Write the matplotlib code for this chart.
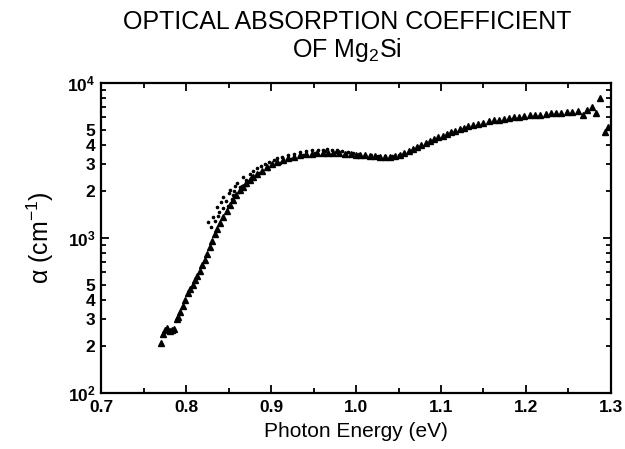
import matplotlib
matplotlib.use("Agg")
import matplotlib.pyplot as plt
from matplotlib.ticker import LogLocator, FixedLocator, FuncFormatter, MultipleLocator

plt.rcParams['font.family'] = ['Liberation Sans', 'DejaVu Sans']
plt.rcParams['mathtext.default'] = 'regular'

# triangle series: photon energy (eV) and absorption coefficient (cm^-1)
tri_energy = [0.771, 0.773, 0.775, 0.778, 0.781, 0.784, 0.786, 0.789, 0.791, 0.793,
              0.796, 0.799, 0.802, 0.805, 0.808, 0.811, 0.813, 0.816, 0.819, 0.822,
              0.825, 0.828, 0.831, 0.834, 0.837, 0.840, 0.844, 0.848, 0.852, 0.855,
              0.859, 0.863, 0.867, 0.871, 0.875, 0.879, 0.884, 0.889, 0.895, 0.901,
              0.907, 0.914, 0.920, 0.927, 0.934, 0.941, 0.948, 0.954, 0.961, 0.967,
              0.973, 0.980, 0.987, 0.994, 1.000, 1.005, 1.011, 1.016, 1.022, 1.028,
              1.034, 1.040, 1.046, 1.052, 1.057, 1.062, 1.067, 1.072, 1.077, 1.082,
              1.087, 1.092, 1.097, 1.102, 1.107, 1.112, 1.117, 1.122, 1.127, 1.132,
              1.138, 1.144, 1.150, 1.156, 1.162, 1.168, 1.174, 1.180, 1.186, 1.192,
              1.198, 1.205, 1.211, 1.217, 1.223, 1.229, 1.235, 1.241, 1.248, 1.254,
              1.261, 1.267, 1.272, 1.278, 1.282, 1.287, 1.293, 1.297]
tri_alpha = [210, 240, 255, 262, 250, 255, 258, 300, 310, 335,
             365, 400, 440, 470, 500, 535, 565, 610, 665, 720,
             790, 870, 960, 1060, 1150, 1250, 1360, 1500, 1640, 1760,
             1900, 2030, 2140, 2270, 2370, 2460, 2590, 2720, 2870, 2990,
             3100, 3180, 3260, 3330, 3410, 3460, 3500, 3530, 3540, 3550,
             3540, 3520, 3500, 3480, 3450, 3430, 3410, 3390, 3370, 3350,
             3340, 3330, 3380, 3440, 3540, 3650, 3760, 3880, 4000, 4110,
             4240, 4360, 4480, 4580, 4700, 4820, 4930, 5030, 5140, 5250,
             5360, 5450, 5560, 5660, 5740, 5810, 5870, 5940, 5990, 6040,
             6090, 6180, 6200, 6260, 6330, 6390, 6420, 6450, 6490, 6520,
             6580, 6200, 6700, 7000, 6400, 8000, 4800, 5200]

# small-dot series
dot_energy = [0.826, 0.829, 0.832, 0.834, 0.836, 0.839, 0.841, 0.844, 0.847, 0.850,
              0.852, 0.855, 0.858, 0.860, 0.863, 0.867, 0.871, 0.875, 0.879, 0.883,
              0.888, 0.893, 0.898, 0.903, 0.907, 0.913, 0.920, 0.927, 0.934, 0.941,
              0.948, 0.955, 0.961, 0.966, 0.972, 0.978, 0.984, 0.990, 0.996, 1.003,
              1.010, 1.018, 1.026, 1.034, 1.042, 1.050,
              0.838, 0.843, 0.849, 0.854, 0.857, 0.862, 0.866, 0.870, 0.874, 0.878,
              0.886, 0.896, 0.910, 0.924, 0.938, 0.952, 0.964, 0.976, 0.988]
dot_alpha = [1260, 1180, 1360, 1290, 1590, 1480, 1700, 1840, 1720, 1950,
             2040, 1900, 2180, 2260, 2120, 2460, 2380, 2600, 2700, 2830,
             2900, 3000, 3100, 3200, 3280, 3350, 3420, 3500, 3600, 3620,
             3680, 3700, 3720, 3750, 3700, 3680, 3650, 3600, 3560, 3500,
             3450, 3420, 3400, 3380, 3400, 3420,
             1380, 1560, 1600, 1780, 2000, 1980, 2150, 2200, 2330, 2500,
             2620, 2780, 3050, 3250, 3420, 3560, 3620, 3600, 3560]

fig = plt.figure(figsize=(6.25, 4.49), dpi=100)
ax = fig.add_axes([101 / 625, 1 - 393 / 449, 510 / 625, 310 / 449])

ax.plot(dot_energy, dot_alpha, linestyle='none', marker='o', markersize=1.6,
        color='black')
ax.plot(tri_energy, tri_alpha, linestyle='none', marker='^', markersize=4.6,
        color='black')

ax.set_yscale('log')
ax.set_xlim(0.7, 1.3)
ax.set_ylim(100, 10000)

ax.xaxis.set_major_locator(MultipleLocator(0.1))
ax.xaxis.set_minor_locator(MultipleLocator(0.05))
ax.xaxis.set_major_formatter(FuncFormatter(lambda v, p: f"{v:.1f}"))

ax.yaxis.set_major_locator(FixedLocator([100, 1000, 10000]))
ax.yaxis.set_major_formatter(FuncFormatter(lambda v, p: {100: '10$^2$', 1000: '10$^3$', 10000: '10$^4$'}.get(int(round(v)), '')))
ax.yaxis.set_minor_locator(LogLocator(base=10, subs=range(2, 10)))


def minor_label(v, p):
    lead = round(v / 10 ** int(f"{v:e}".split('e')[1]))
    return str(lead) if lead in (2, 3, 4, 5) else ''


ax.yaxis.set_minor_formatter(FuncFormatter(minor_label))

for s in ax.spines.values():
    s.set_linewidth(1.6)

ax.tick_params(which='both', direction='in', top=True, right=True, width=1.3,
               labelsize=12.5, colors='black')
ax.tick_params(which='major', length=6)
ax.tick_params(which='minor', length=3.5)
ax.tick_params(axis='x', which='both', pad=5)
ax.tick_params(axis='y', which='both', pad=4)
for lab in ax.get_xticklabels() + ax.get_yticklabels() + ax.get_yticklabels(minor=True):
    lab.set_fontweight('bold')

ax.set_xlabel('Photon Energy (eV)', fontsize=15, labelpad=5)
ax.set_ylabel(r'$\alpha$ (cm$^{-1}$)', fontsize=18, labelpad=8)

fig.text(0.555, 0.950, 'OPTICAL ABSORPTION COEFFICIENT', ha='center', va='center',
         fontsize=18)
fig.text(0.555, 0.888, 'OF Mg$_2$Si', ha='center', va='center', fontsize=18)

plt.savefig('out.png', dpi=100)
plt.close()
